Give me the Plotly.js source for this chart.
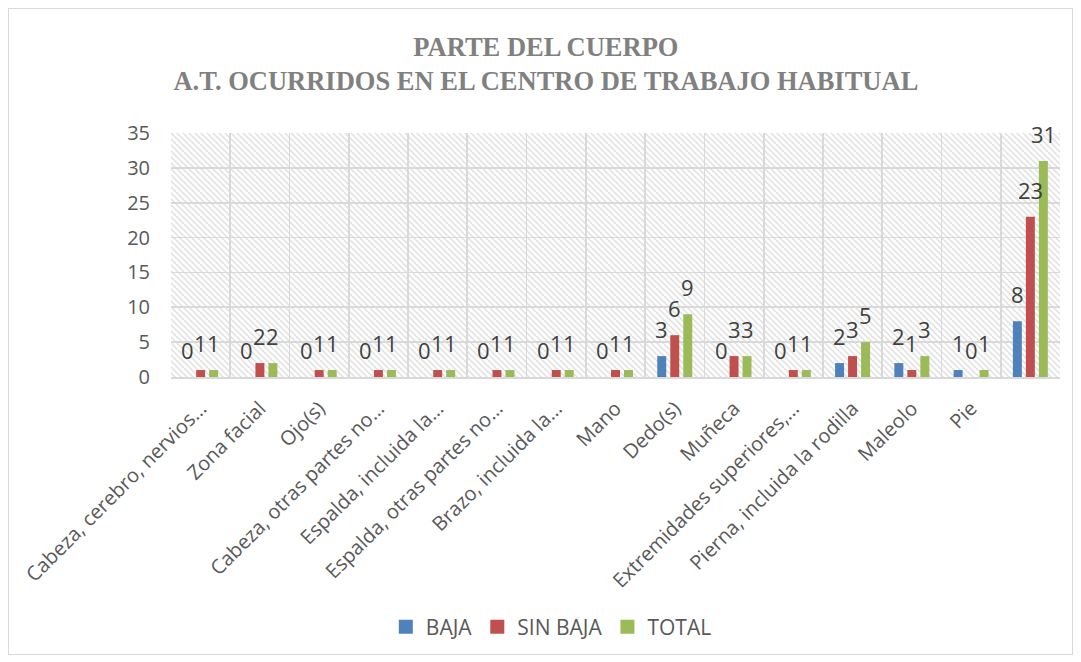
<!DOCTYPE html>
<html>
<head>
<meta charset="utf-8">
<script src="https://cdn.plot.ly/plotly-3.0.1.min.js"></script>
<style>
  html, body { margin: 0; padding: 0; background: #ffffff; }
  #wrap { position: relative; width: 1081px; height: 662px; overflow: hidden; }
  #chart { position: absolute; left: 0; top: 0; width: 1081px; height: 662px; }
  #frame { position: absolute; left: 8px; top: 8px; width: 1063px; height: 645px; border: 1px solid #d9d9d9; pointer-events: none; }
</style>
</head>
<body>
<div id="wrap"><div id="chart"></div><div id="frame"></div></div>
<script>
// ---- data ----
const categories = [
  "Cabeza, cerebro, nervios…",
  "Zona facial",
  "Ojo(s)",
  "Cabeza, otras partes no…",
  "Espalda, incluida la…",
  "Espalda, otras partes no…",
  "Brazo, incluida la…",
  "Mano",
  "Dedo(s)",
  "Muñeca",
  "Extremidades superiores,…",
  "Pierna, incluida la rodilla",
  "Maleolo",
  "Pie",
  " "
];
const baja    = [0, 0, 0, 0, 0, 0, 0, 0, 3, 0, 0, 2, 2, 1, 8];
const sinBaja = [1, 2, 1, 1, 1, 1, 1, 1, 6, 3, 1, 3, 1, 0, 23];
const total   = [1, 2, 1, 1, 1, 1, 1, 1, 9, 3, 1, 5, 3, 1, 31];
const seriesNames = ["BAJA", "SIN BAJA", "TOTAL"];
const seriesColors = ["#4f81bd", "#c0504d", "#9bbb59"];
const seriesValues = [baja, sinBaja, total];

// ---- layout geometry ----
const W = 1081, H = 662;
const M = { l: 171, r: 21, t: 133, b: 285 };
const PW = W - M.l - M.r, PH = H - M.t - M.b;
const catW = PW / categories.length;
const bargap = 0.342;
const slot = catW * (1 - bargap) / 3;

// hatched plot background
const svg = `<svg xmlns="http://www.w3.org/2000/svg" width="${PW}" height="${PH}" viewBox="0 0 ${PW} ${PH}">
<defs><pattern id="p" patternUnits="userSpaceOnUse" width="6" height="6">
<path d="M0,0 L6,6 M-1,5 L1,7 M5,-1 L7,1" stroke="#e0e0e0" stroke-width="1.5"/></pattern></defs>
<rect width="${PW}" height="${PH}" fill="#ffffff"/><rect width="${PW}" height="${PH}" fill="url(#p)"/></svg>`;
const bgSrc = "data:image/svg+xml;charset=utf-8," + encodeURIComponent(svg);

const traces = seriesNames.map((n, s) => ({
  type: "bar",
  name: n,
  x: categories,
  y: seriesValues[s],
  marker: { color: seriesColors[s] },
  showlegend: false,
  hoverinfo: "x+y+name"
}));
// legend entries with square swatches
seriesNames.forEach((n, s) => {
  traces.push({
    type: "scatter", mode: "markers", name: n,
    x: [null], y: [null],
    marker: { symbol: "square", size: 14, color: seriesColors[s] },
    showlegend: true, hoverinfo: "skip"
  });
});

const annotations = [];
seriesValues.forEach((vals, s) => {
  vals.forEach((v, i) => {
    annotations.push({
      x: categories[i], y: v, xref: "x", yref: "y",
      text: String(v), showarrow: false,
      xshift: (s - 1) * slot, yshift: 27, yanchor: "middle",
      font: { family: "Open Sans, sans-serif", size: 22, color: "#404040" }
    });
  });
});

const layout = {
  width: W, height: H,
  margin: M,
  paper_bgcolor: "rgba(0,0,0,0)",
  plot_bgcolor: "#ffffff",
  barmode: "group",
  bargap: bargap,
  bargroupgap: 0.31,
  title: {
    text: "PARTE DEL CUERPO<br>A.T. OCURRIDOS EN EL CENTRO DE TRABAJO HABITUAL",
    x: 0.505, xref: "container", xanchor: "center",
    y: 1 - 56 / H, yref: "container", yanchor: "top",
    font: { family: "Liberation Serif, serif", size: 26.5, color: "#808080", weight: "bold" }
  },
  xaxis: {
    type: "category",
    tickson: "boundaries",
    showgrid: true, gridcolor: "#d9d9d9", gridwidth: 1.8,
    showline: true, linecolor: "#d9d9d9", linewidth: 1.8,
    ticks: "", tickangle: -45, ticklabelstandoff: 10,
    tickfont: { family: "Open Sans, sans-serif", size: 20, color: "#595959" },
    automargin: false, fixedrange: true
  },
  yaxis: {
    range: [0, 35], dtick: 5, tick0: 0,
    showgrid: true, gridcolor: "#d9d9d9", gridwidth: 1.8,
    zeroline: false, showline: false,
    ticks: "", ticklabelstandoff: 20,
    tickfont: { family: "Open Sans, sans-serif", size: 20, color: "#595959" },
    automargin: false, fixedrange: true
  },
  legend: {
    orientation: "h",
    x: 0.51, xref: "container", xanchor: "center",
    y: 1 - 627 / H, yref: "container", yanchor: "middle",
    itemwidth: 30,
    font: { family: "Open Sans, sans-serif", size: 21, color: "#595959" },
    itemclick: false, itemdoubleclick: false
  },
  images: [{
    source: bgSrc, xref: "paper", yref: "paper",
    x: 0, y: 1, sizex: 1, sizey: 1, xanchor: "left", yanchor: "top",
    sizing: "stretch", layer: "below"
  }],
  annotations: annotations
};

Plotly.newPlot("chart", traces, layout, { displayModeBar: false, staticPlot: true });
</script>
</body>
</html>
